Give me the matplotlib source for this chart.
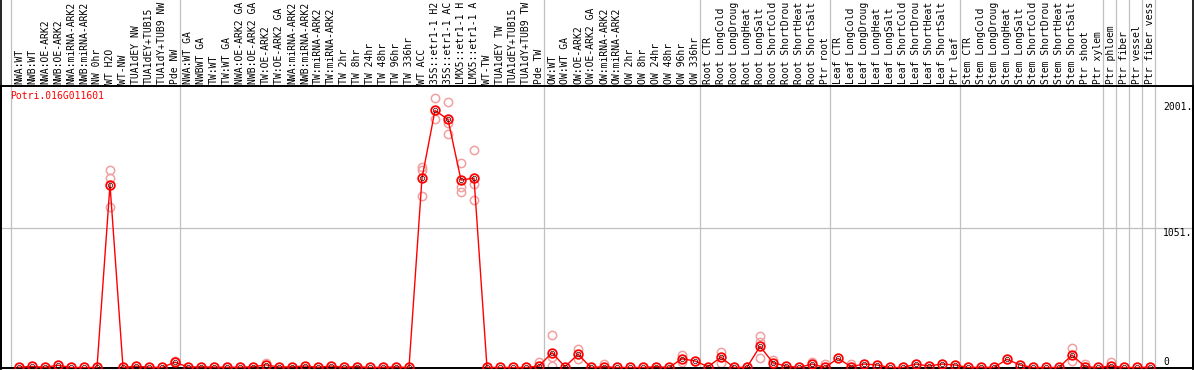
import matplotlib
matplotlib.use("Agg")
import matplotlib.pyplot as plt
from matplotlib.transforms import blended_transform_factory
from matplotlib.lines import Line2D

# sample labels (header), truncated to 14 chars as in the source page
labels = [
    "NWA:WT", "NWB:WT", "NWA:OE-ARK2", "NWB:OE-ARK2", "NWA:miRNA-ARK2", "NWB:miRNA-ARK2",
    "NW 0hr", "WT H2O", "WT-NW", "TUA1dEY NW", "TUA1dEY+TUB15", "TUA1dY+TUB9 NW", "Pde NW",
    "NWA:WT GA", "NWBWT GA", "TW:WT", "TW:WT GA", "NWA:OE-ARK2 GA", "NWB:OE-ARK2 GA",
    "TW:OE-ARK2", "TW:OE-ARK2 GA", "NWA:miRNA-ARK2", "NWB:miRNA-ARK2", "TW:miRNA-ARK2",
    "TW:miRNA-ARK2", "TW 2hr", "TW 8hr", "TW 24hr", "TW 48hr", "TW 96hr", "TW 336hr",
    "WT ACC", "35S::etr1-1 H2", "35S::etr1-1 AC", "LMX5::etr1-1 H", "LMX5::etr1-1 A",
    "WT-TW", "TUA1dEY TW", "TUA1dEY+TUB15", "TUA1dY+TUB9 TW", "Pde TW",
    "OW:WT", "OW:WT GA", "OW:OE-ARK2", "OW:OE-ARK2 GA", "OW:miRNA-ARK2", "OW:miRNA-ARK2",
    "OW 2hr", "OW 8hr", "OW 24hr", "OW 48hr", "OW 96hr", "OW 336hr",
    "Root CTR", "Root LongCold", "Root LongDroug", "Root LongHeat", "Root LongSalt",
    "Root ShortCold", "Root ShortDrou", "Root ShortHeat", "Root ShortSalt", "Ptr root",
    "Leaf CTR", "Leaf LongCold", "Leaf LongDroug", "Leaf LongHeat", "Leaf LongSalt",
    "Leaf ShortCold", "Leaf ShortDrou", "Leaf ShortHeat", "Leaf ShortSalt", "Ptr leaf",
    "Stem CTR", "Stem LongCold", "Stem LongDroug", "Stem LongHeat", "Stem LongSalt",
    "Stem ShortCold", "Stem ShortDrou", "Stem ShortHeat", "Stem ShortSalt", "Ptr shoot",
    "Ptr xylem", "Ptr phloem", "Ptr fiber", "Ptr vessel", "Ptr fiber vess",
]

# mean expression per sample
means = [
    2, 8, 2, 17, 0, 0, 0, 1376, 0, 10, 2, 0, 40,
    3, 5, 3, 2, 2, 5, 20, 3, 5, 11, 2, 11, 2, 6, 0, 2, 4, 0,
    1425, 1934, 1866, 1410, 1425, 0, 0, 0, 0, 11,
    111, 6, 99, 0, 6, 0, 0, 0, 6, 0, 66, 49,
    6, 77, 0, 2, 159, 36, 11, 0, 26, 0,
    69, 6, 26, 19, 0, 0, 26, 11, 26, 19,
    0, 2, 0, 62, 19, 0, 0, 0, 94, 6,
    0, 11, 0, 0, 2,
]

# individual replicates that stand out from the mean
rep_idx = [7, 7, 7, 12, 19, 31, 31, 31, 32, 32, 33, 33, 33, 34, 34, 34, 35, 35, 35,
           40, 41, 41, 41, 43, 43, 45, 51, 51, 54, 54, 57, 57, 57, 58, 58,
           61, 62, 64, 81, 81, 82, 84]
rep_val = [1487, 1426, 1207, 52, 36, 1510, 1485, 1292, 2024, 1866, 1999, 1836, 1756,
           1540, 1355, 1322, 1636, 1378, 1260,
           39, 244, 81, 11, 139, 62, 24, 94, 39, 119, 31, 239, 194, 69, 56, 6,
           44, 26, 26, 144, 51, 26, 44]

group_ends = [-1, 12, 40, 52, 62, 72, 83, 84, 85, 86, 87]
ytick_vals = [2001, 1051, 0]
gene = "Potri.016G011601"

W, H = 1194, 370
mono = "DejaVu Sans Mono"
fs = 7

fig = plt.figure(figsize=(W / 100, H / 100), dpi=100)
ax = fig.add_axes([1 / W, 2 / H, 1192 / W, 282 / H])
ax.set_xlim(-18 / 13, 1174 / 13)
ax.set_ylim(-3.8, 2117.7)

grey = "#c0c0c0"
top_frac = 368 / 282
for g in group_ends:
    ax.axvline(g + 0.38, ymin=0, ymax=top_frac, color=grey, lw=0.9, clip_on=False, zorder=1)
ax.axhline(1051, color=grey, lw=0.9, zorder=1)

x = list(range(len(means)))
ax.plot(x, means, color="red", lw=1.0, zorder=3)
ax.plot(rep_idx, rep_val, ls="none", marker="o", ms=6, mfc="none",
        mec="#f0a0a0", mew=1.1, zorder=2)
ax.plot(x, means, ls="none", marker="o", ms=6.2, mfc="none", mec="red", mew=1.3, zorder=4)
ax.plot(x, means, ls="none", marker="o", ms=3.2, mfc="none", mec="#400000", mew=0.5, zorder=5)

ax.set_xticks([])
ax.set_yticks([])
for side in ["left", "right", "bottom", "top"]:
    ax.spines[side].set_color("black")
    ax.spines[side].set_linewidth(1.4)

# header labels
tr = blended_transform_factory(ax.transData, fig.transFigure)
for i, lab in enumerate(labels):
    ax.text(i, (H - 84) / H, lab, transform=tr, rotation=90, ha="center", va="bottom",
            fontsize=fs, family=mono, color="black", clip_on=False)

# frame lines through the header
fig.add_artist(Line2D([1 / W, 1 / W], [0, 1], color="black", lw=1.2))
fig.add_artist(Line2D([1193 / W, 1193 / W], [0, 1], color="black", lw=1.2))

# value labels on the right
for v in ytick_vals:
    ax.text(88.0, v, str(v) + ("." if v else ""), ha="left",
            va="top" if v else "bottom", fontsize=fs, family=mono, color="black")

ax.text(9 / 1192, 0.982, gene, transform=ax.transAxes, ha="left", va="top",
        fontsize=fs, family=mono, color="red")

fig.savefig("out.png", dpi=100)
